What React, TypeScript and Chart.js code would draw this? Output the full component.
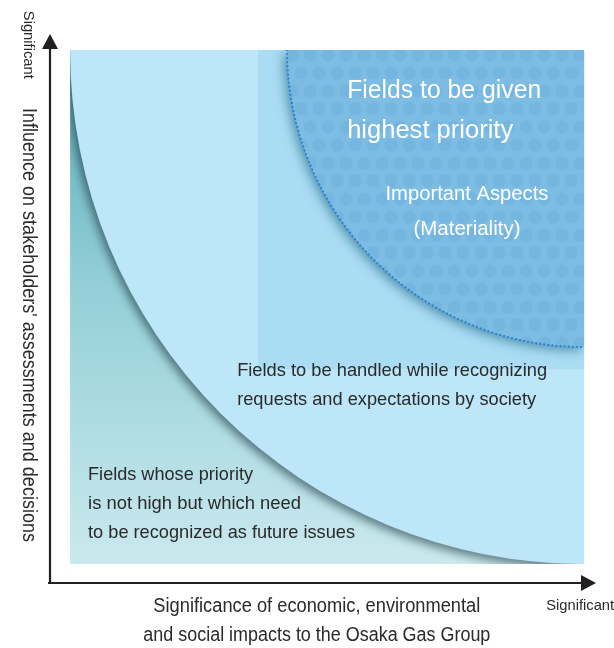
import React, { useEffect, useRef } from "react";
import { Chart, registerables } from "chart.js";

Chart.register(...registerables);

// ---- Data (axis units: 0 = low significance, 1 = high significance) ----
const xRange = [-0.039, 1.023];
const yRange = [-0.037, 1.031];
const plotExtent = [0, 1];
const outerBoundaryRadius = 1.0; // boundary of "handled while recognizing" zone, centred at (1,1)
const innerBlockStart = [0.366, 0.379]; // x, y where the darker upper-right block begins
const materialityRadius = 0.578; // "highest priority" quarter circle, centred at (1,1)

const highestTitle = ["Fields to be given", "highest priority"];
const materialityLabel = ["Important Aspects", "(Materiality)"];
const middleLabel = ["Fields to be handled while recognizing", "requests and expectations by society"];
const lowerLabel = ["Fields whose priority", "is not high but which need", "to be recognized as future issues"];
const xTitle = ["Significance of economic, environmental", "and social impacts to the Osaka Gas Group"];
const yTitle = "Influence on stakeholders' assessments and decisions";
const axisEndLabel = "Significant";

// ---- Text layout (anchor in axis units, font px, fitted width px) ----
type TextItem = { t: string; x: number; y: number; size: number; w: number; color: string; align: CanvasTextAlign; rot?: boolean };
const DARK = "#2a2a2a";
const textItems: TextItem[] = [
  { t: highestTitle[0], x: 0.539, y: 0.920, size: 25, w: 194, color: "#ffffff", align: "left" },
  { t: highestTitle[1], x: 0.539, y: 0.842, size: 25, w: 166, color: "#ffffff", align: "left" },
  { t: materialityLabel[0], x: 0.772, y: 0.720, size: 21, w: 163, color: "#ffffff", align: "center" },
  { t: materialityLabel[1], x: 0.772, y: 0.652, size: 21, w: 107, color: "#ffffff", align: "center" },
  { t: middleLabel[0], x: 0.325, y: 0.376, size: 19, w: 310, color: DARK, align: "left" },
  { t: middleLabel[1], x: 0.325, y: 0.319, size: 19, w: 299, color: DARK, align: "left" },
  { t: lowerLabel[0], x: 0.035, y: 0.173, size: 19, w: 165, color: DARK, align: "left" },
  { t: lowerLabel[1], x: 0.035, y: 0.117, size: 19, w: 213, color: DARK, align: "left" },
  { t: lowerLabel[2], x: 0.035, y: 0.060, size: 19, w: 267, color: DARK, align: "left" },
  { t: xTitle[0], x: 0.480, y: -0.082, size: 19.5, w: 327, color: DARK, align: "center" },
  { t: xTitle[1], x: 0.480, y: -0.140, size: 19.5, w: 347, color: DARK, align: "center" },
  { t: axisEndLabel, x: 0.926, y: -0.082, size: 15, w: 68, color: DARK, align: "left" },
  { t: axisEndLabel, x: -0.081, y: 1.010, size: 15, w: 68, color: DARK, align: "center", rot: true },
  { t: yTitle, x: -0.081, y: 0.465, size: 19.5, w: 434, color: DARK, align: "center", rot: true },
];

const FONT = '"Liberation Sans", Arial, sans-serif';

const diagramPlugin = {
  id: "materialityDiagram",
  beforeDatasetsDraw(chart: any) {
    const ctx: CanvasRenderingContext2D = chart.ctx;
    const xs = chart.scales.x;
    const ys = chart.scales.y;
    const px = (v: number) => xs.getPixelForValue(v);
    const py = (v: number) => ys.getPixelForValue(v);

    const L = px(plotExtent[0]);
    const R = px(plotExtent[1]);
    const T = py(plotExtent[1]);
    const B = py(plotExtent[0]);
    const cx = px(1);
    const cy = py(1);
    const unit = px(1) - px(0);

    ctx.save();
    ctx.beginPath();
    ctx.rect(L, T, R - L, B - T);
    ctx.clip();

    // lower-left zone gradient
    const g = ctx.createLinearGradient(0, T, 0, B);
    g.addColorStop(0, "#58a9b4");
    g.addColorStop(0.45, "#93ced7");
    g.addColorStop(1, "#c9e9ee");
    ctx.fillStyle = g;
    ctx.fillRect(L, T, R - L, B - T);

    // middle zone with shadow on its boundary
    const rOuter = outerBoundaryRadius * unit;
    ctx.save();
    ctx.shadowColor = "rgba(25,50,60,0.6)";
    ctx.shadowBlur = 10;
    ctx.shadowOffsetX = -3;
    ctx.shadowOffsetY = 4;
    ctx.beginPath();
    ctx.moveTo(cx, cy);
    ctx.arc(cx, cy, rOuter, Math.PI, Math.PI / 2, true);
    ctx.closePath();
    ctx.fillStyle = "#bde6f8";
    ctx.fill();
    ctx.restore();

    // darker upper-right block
    const bx = px(innerBlockStart[0]);
    const by = py(innerBlockStart[1]);
    ctx.fillStyle = "#aadcf4";
    ctx.fillRect(bx, T, R - bx, by - T);

    // materiality quarter circle
    const rc = materialityRadius * unit;
    ctx.save();
    ctx.shadowColor = "rgba(0,75,105,0.55)";
    ctx.shadowBlur = 12;
    ctx.shadowOffsetX = -3;
    ctx.shadowOffsetY = 3;
    ctx.beginPath();
    ctx.moveTo(cx, cy);
    ctx.arc(cx, cy, rc, Math.PI, Math.PI / 2, true);
    ctx.closePath();
    ctx.fillStyle = "#7dbce3";
    ctx.fill();
    ctx.restore();

    // dot pattern inside circle
    ctx.save();
    ctx.beginPath();
    ctx.moveTo(cx, cy);
    ctx.arc(cx, cy, rc, Math.PI, Math.PI / 2, true);
    ctx.closePath();
    ctx.clip();
    ctx.fillStyle = "#74b6e0";
    const step = 18;
    let row = 0;
    for (let y = cy + 5; y < cy + rc + step; y += step, row++) {
      const off = row % 2 === 0 ? 0 : step / 2;
      for (let x = cx - 4 - off; x > cx - rc - step; x -= step) {
        ctx.beginPath();
        ctx.arc(x, y, 6.5, 0, Math.PI * 2);
        ctx.fill();
      }
    }
    ctx.restore();

    // dotted edge
    ctx.save();
    ctx.strokeStyle = "#2a84d4";
    ctx.lineWidth = 2.2;
    ctx.lineCap = "round";
    ctx.setLineDash([0.1, 4]);
    ctx.beginPath();
    ctx.arc(cx, cy, rc, Math.PI, Math.PI / 2, true);
    ctx.stroke();
    ctx.restore();

    ctx.restore();

    // axes with arrows
    const ax = px(xRange[0]);
    const ay = py(yRange[0]);
    const xTip = px(xRange[1]);
    const yTip = py(yRange[1]);
    ctx.save();
    ctx.strokeStyle = "#231f20";
    ctx.fillStyle = "#231f20";
    ctx.lineWidth = 2.2;
    ctx.beginPath();
    ctx.moveTo(ax, ay);
    ctx.lineTo(ax, yTip + 12);
    ctx.moveTo(ax - 2, ay);
    ctx.lineTo(xTip - 12, ay);
    ctx.stroke();
    ctx.beginPath();
    ctx.moveTo(ax, yTip);
    ctx.lineTo(ax - 8, yTip + 15);
    ctx.lineTo(ax + 8, yTip + 15);
    ctx.closePath();
    ctx.fill();
    ctx.beginPath();
    ctx.moveTo(xTip, ay);
    ctx.lineTo(xTip - 15, ay - 8);
    ctx.lineTo(xTip - 15, ay + 8);
    ctx.closePath();
    ctx.fill();
    ctx.restore();

    // texts
    for (const it of textItems) {
      ctx.save();
      ctx.translate(px(it.x), py(it.y));
      if (it.rot) ctx.rotate(Math.PI / 2);
      ctx.font = `${it.size}px ${FONT}`;
      const w = ctx.measureText(it.t).width;
      ctx.scale(it.w / w, 1);
      ctx.textAlign = it.align;
      ctx.textBaseline = "middle";
      ctx.fillStyle = it.color;
      ctx.fillText(it.t, 0, 0);
      ctx.restore();
    }
  },
};

export default function App() {
  const ref = useRef<HTMLCanvasElement | null>(null);
  useEffect(() => {
    if (!ref.current) return;
    const chart = new Chart(ref.current, {
      type: "scatter",
      data: { datasets: [] },
      options: {
        animation: false,
        responsive: false,
        layout: { padding: { left: 50, right: 18, top: 34, bottom: 65 } },
        plugins: { legend: { display: false }, tooltip: { enabled: false } },
        scales: {
          x: { type: "linear", display: false, min: xRange[0], max: xRange[1] },
          y: { type: "linear", display: false, min: yRange[0], max: yRange[1] },
        },
      },
      plugins: [diagramPlugin],
    });
    return () => chart.destroy();
  }, []);
  return (
    <div style={{ position: "absolute", left: 0, top: 0, width: 614, height: 648, overflow: "hidden" }}>
      <canvas ref={ref} width={614} height={648} style={{ display: "block" }} />
    </div>
  );
}
